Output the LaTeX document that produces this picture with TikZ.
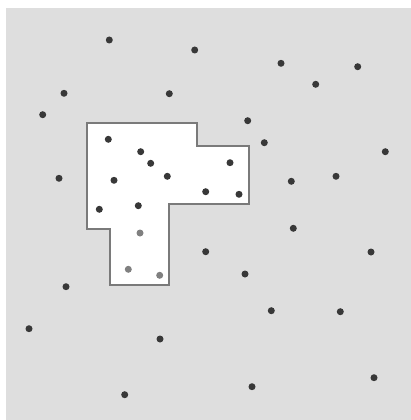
\documentclass[tikz,border=0pt]{standalone}
\begin{document}
\begin{tikzpicture}[x=1pt,y=-1pt,
  bg/.style={fill=black!13},
  region/.style={fill=white,draw=black!52,line width=2.6pt,line join=miter},
  dotdark/.style={fill=black!78},
  dotlight/.style={fill=black!50}]
\useasboundingbox (0,0) rectangle (411,420);
\fill[white] (0,0) rectangle (411,420);
\fill[bg] (6,8) rectangle (411,420);
\draw[region] (87,123) -- (197,123) -- (197,146) -- (249,146) -- (249,204) -- (169,204)
  -- (169,285) -- (110,285) -- (110,229) -- (87,229) -- cycle;
% dots outside
\foreach \p in {(109.3,40),(194.7,50),(281,63.3),(357.7,66.7),(315.7,84.3),(64,93.3),
  (169.3,93.7),(42.7,114.7),(247.7,120.7),(264.3,142.7),(385.3,151.7),(59,178.3),
  (291.3,181.3),(336,176.3),(293.3,228.3),(205.7,251.7),(371,252),(245,274),
  (66,286.7),(271.3,310.7),(340.3,311.7),(29,328.7),(160,339),(374,377.7),
  (252,386.7),(124.7,394.7)}
  \fill[dotdark] \p circle (3.5);
% dots inside
\foreach \p in {(108.3,139.3),(140.7,151.7),(150.7,163.3),(167.3,176.3),(114,180.3),
  (230,162.7),(205.7,191.7),(239,194.3),(99.3,209.3),(138.3,205.7)}
  \fill[dotdark] \p circle (3.5);
\foreach \p in {(140,233),(128.3,269.3),(159.7,275.3)}
  \fill[dotlight] \p circle (3.5);
\end{tikzpicture}
\end{document}
